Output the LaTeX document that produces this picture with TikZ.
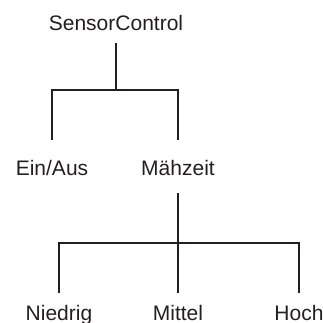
\documentclass[tikz,border=0pt]{standalone}
\usepackage{fontspec}
\setmainfont{Liberation Sans}
\usepackage{tikz}
\usetikzlibrary{positioning, calc}
\definecolor{inkgray}{RGB}{35,31,32}

\begin{document}
\begin{tikzpicture}[
        x=1pt, y=-1pt,
        label/.style={anchor=base, inner sep=0pt, text height=15pt, text depth=0pt, text=inkgray, font=\fontsize{21}{25}\selectfont},
        branch/.style={draw=inkgray, line width=1.9pt},
    ]
        \useasboundingbox (0,0) rectangle (322,323);

        \node[label] (root)     at (116,31)  {SensorControl};
        \node[label] (einaus)   at (52,175)  {Ein/Aus};
        \node[label] (maehzeit) at (178,175) {Mähzeit};
        \node[label] (niedrig)  at (59,320)  {Niedrig};
        \node[label] (mittel)   at (178,320) {Mittel};
        \node[label] (hoch)     at (299,320) {Hoch};

        % first level
        \draw[branch] ([yshift=-12pt]root.south) -- ++(0,47);
        \draw[branch] ([yshift=20pt]einaus.north) -- ++(0,-50) -| ([yshift=20pt]maehzeit.north);

        % second level
        \draw[branch] ([yshift=-18pt]maehzeit.south) -- ++(0,50);
        \draw[branch] ([yshift=12pt]niedrig.north) -- ++(0,-50) -| ([yshift=12pt]hoch.north);
        \draw[branch] ([yshift=12pt]mittel.north) -- ++(0,-50);
    \end{tikzpicture}
\end{document}
